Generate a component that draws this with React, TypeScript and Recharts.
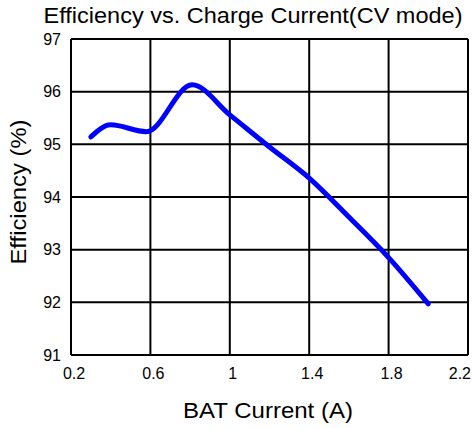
import { LineChart, Line, XAxis, YAxis, CartesianGrid } from 'recharts';

const current = [0.3, 0.4, 0.58, 0.81, 1.0, 1.2, 1.4, 1.6, 1.8, 2.0];
const efficiency = [95.14, 95.37, 95.24, 96.13, 95.56, 94.95, 94.36, 93.62, 92.85, 91.97];
const xTicks = [0.2, 0.6, 1, 1.4, 1.8, 2.2];
const yTicks = [91, 92, 93, 94, 95, 96, 97];

const data = current.map((c, i) => ({ current: c, efficiency: efficiency[i] }));

const FONT = '"Liberation Sans", Arial, sans-serif';

const XTick = ({ x, y, payload, index }: any) => {
  const last = index === xTicks.length - 1;
  return (
    <text
      x={last ? 471 : x + 3}
      y={y + 5}
      textAnchor={last ? 'end' : 'middle'}
      dominantBaseline="hanging"
      fontSize={16}
      fontFamily={FONT}
      fill="#000"
    >
      {payload.value}
    </text>
  );
};

const YTick = ({ x, y, payload }: any) => (
  <text x={x - 2} y={y} textAnchor="end" dominantBaseline="central" fontSize={16} fontFamily={FONT} fill="#000">
    {payload.value}
  </text>
);

export default function App() {
  return (
    <div style={{ position: 'absolute', left: 0, top: 0, background: '#fff' }}>
      <LineChart
        width={473}
        height={428}
        data={data}
        margin={{ top: 39, right: 5, left: 0, bottom: 0 }}
      >
        <CartesianGrid stroke="#000" strokeWidth={2} />
        <XAxis
          dataKey="current"
          type="number"
          domain={[0.2, 2.2]}
          ticks={xTicks}
          height={73}
          axisLine={{ stroke: '#000', strokeWidth: 2 }}
          tickLine={false}
          tick={<XTick />}
          interval={0}
        />
        <YAxis
          type="number"
          domain={[91, 97]}
          ticks={yTicks}
          width={71}
          axisLine={{ stroke: '#000', strokeWidth: 2 }}
          tickLine={false}
          tick={<YTick />}
          interval={0}
        />
        <Line
          type="monotone"
          dataKey="efficiency"
          stroke="#0000ff"
          strokeWidth={5}
          strokeLinecap="round"
          dot={false}
          isAnimationActive={false}
        />
        <text x={253} y={15} textAnchor="middle" dominantBaseline="central" fontSize={22} fontFamily={FONT} textLength={419} lengthAdjust="spacingAndGlyphs">
          Efficiency vs. Charge Current(CV mode)
        </text>
        <text x={268} y={410} textAnchor="middle" dominantBaseline="central" fontSize={22} fontFamily={FONT} textLength={170} lengthAdjust="spacingAndGlyphs">
          BAT Current (A)
        </text>
        <text x={18} y={192} textAnchor="middle" dominantBaseline="central" fontSize={22} fontFamily={FONT} textLength={145} lengthAdjust="spacingAndGlyphs" transform="rotate(-90 18 192)">
          Efficiency (%)
        </text>
      </LineChart>
    </div>
  );
}
